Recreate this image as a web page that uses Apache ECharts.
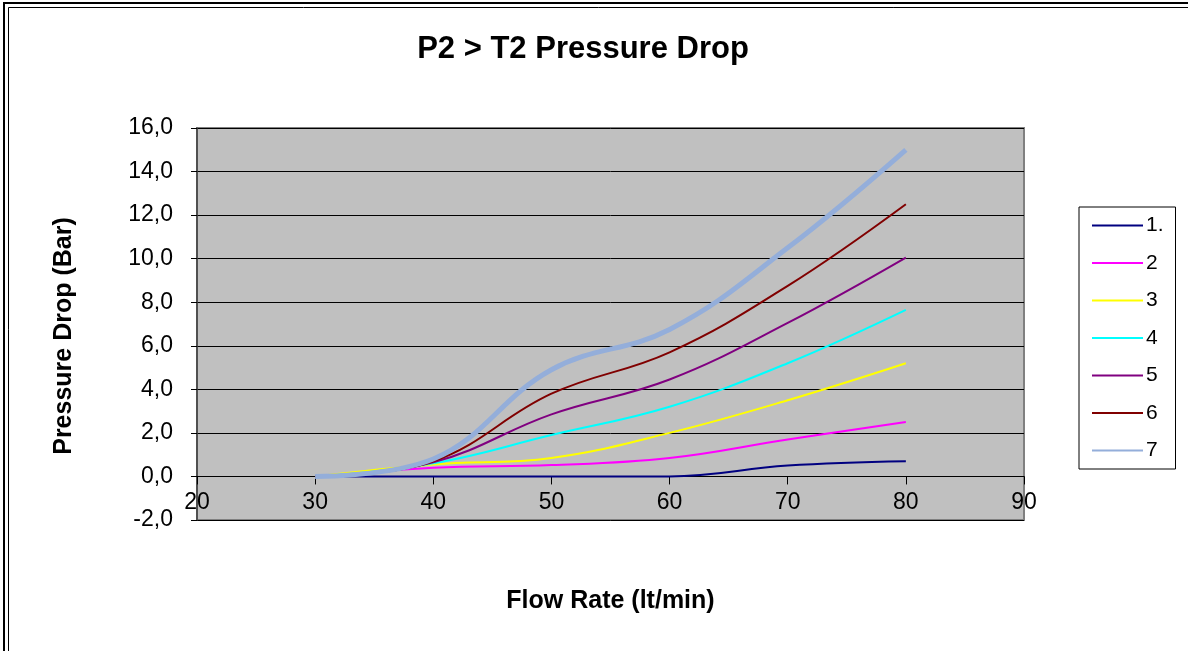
<!DOCTYPE html>
<html>
<head>
<meta charset="utf-8">
<script src="https://cdn.jsdelivr.net/npm/echarts@6/dist/echarts.min.js"></script>
<style>
  html, body { margin: 0; padding: 0; background: #fff; }
  #chart { width: 1188px; height: 651px; }
</style>
</head>
<body>
<div id="chart"></div>
<script>
// flow rate (lt/min) sample points
var flowRate = [30, 40, 50, 60, 70, 80];

// pressure drop (bar) per curve
var curve1 = [0, 0, 0, 0, 0.5, 0.7];
var curve2 = [0, 0.4, 0.52, 0.85, 1.7, 2.5];
var curve3 = [0, 0.55, 0.85, 2.0, 3.5, 5.2];
var curve4 = [0, 0.6, 1.9, 3.2, 5.2, 7.65];
var curve5 = [0, 0.65, 2.85, 4.45, 7.05, 10.05];
var curve6 = [0, 0.7, 3.8, 5.7, 8.75, 12.5];
var curve7 = [0, 0.8, 4.9, 6.75, 10.5, 15.0];

var seriesNames = ['1.', '2', '3', '4', '5', '6', '7'];
var seriesColors = ['#000080', '#FF00FF', '#FFFF00', '#00FFFF', '#800080', '#800000', '#94AEDA'];
var seriesWidths = [2, 2, 2, 2, 2, 2, 5];

var allCurves = [curve1, curve2, curve3, curve4, curve5, curve6, curve7];

var fontFamily = '"Liberation Sans", Arial, sans-serif';

function pairs (ys) {
  return flowRate.map(function (x, i) { return [x, ys[i]]; });
}

var series = allCurves.map(function (ys, i) {
  return {
    name: seriesNames[i],
    type: 'line',
    smooth: 0.4,
    symbol: 'none',
    color: seriesColors[i],
    lineStyle: { width: seriesWidths[i], color: seriesColors[i] },
    data: pairs(ys)
  };
});

var myChart = echarts.init(document.getElementById('chart'));
var option = {
  backgroundColor: '#fff',
  animation: false,
  title: {
    text: 'P2 > T2 Pressure Drop',
    left: 578,
    textAlign: 'center',
    top: 29,
    textStyle: { fontFamily: fontFamily, fontWeight: 'bold', fontSize: 31, color: '#000' }
  },
  legend: {
    orient: 'vertical',
    left: 1079,
    top: 207,
    itemWidth: 51,
    itemHeight: 14,
    itemGap: 16.5,
    padding: [8, 12, 8, 12],
    borderColor: '#000',
    borderWidth: 1,
    backgroundColor: '#fff',
    itemStyle: { opacity: 0 },
    textStyle: { fontFamily: fontFamily, fontSize: 21, color: '#000', padding: [0, 0, 0, -2] },
    data: seriesNames
  },
  grid: {
    left: 197,
    top: 128,
    right: 164,
    bottom: 131,
    outerBoundsMode: 'none',
    show: true,
    backgroundColor: '#C0C0C0',
    borderColor: '#808080',
    borderWidth: 2
  },
  xAxis: {
    type: 'value',
    min: 20,
    max: 90,
    interval: 10,
    name: 'Flow Rate (lt/min)',
    nameLocation: 'middle',
    nameGap: 69,
    nameTextStyle: { fontFamily: fontFamily, fontWeight: 'bold', fontSize: 25, color: '#000' },
    axisLine: { onZero: true, lineStyle: { color: '#000', width: 1 } },
    axisTick: { show: true, length: 8, lineStyle: { color: '#000' } },
    axisLabel: { fontFamily: fontFamily, fontSize: 23, color: '#000', margin: -29 },
    splitLine: { show: false }
  },
  yAxis: {
    type: 'value',
    min: -2,
    max: 16,
    interval: 2,
    name: 'Pressure Drop (Bar)',
    nameLocation: 'middle',
    nameGap: 120,
    nameTextStyle: { fontFamily: fontFamily, fontWeight: 'bold', fontSize: 25, color: '#000', padding: [0, 24, 0, 0] },
    axisLine: { show: true, lineStyle: { color: '#404040', width: 1.5 } },
    axisTick: { show: true, length: 6, lineStyle: { color: '#000' } },
    axisLabel: {
      fontFamily: fontFamily, fontSize: 23, color: '#000', margin: 24,
      formatter: function (v) { return v.toFixed(1).replace('.', ','); }
    },
    splitLine: { show: true, lineStyle: { color: '#000', width: 1 } }
  },
  graphic: [
    { type: 'rect', shape: { x: 4, y: 3, width: 1400, height: 900 }, style: { fill: 'none', stroke: '#000', lineWidth: 2 }, silent: true },
    { type: 'rect', shape: { x: 8.5, y: 7.5, width: 1400, height: 900 }, style: { fill: 'none', stroke: '#000', lineWidth: 1 }, silent: true }
  ],
  series: series
};
myChart.setOption(option);
</script>
</body>
</html>
